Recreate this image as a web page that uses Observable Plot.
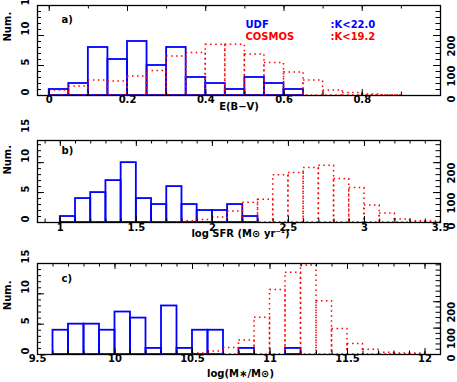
<!DOCTYPE html>
<html><head><meta charset="utf-8">
<script src="https://cdn.jsdelivr.net/npm/d3@7"></script>
<script src="https://cdn.jsdelivr.net/npm/@observablehq/plot@0.6"></script>
<style>
body{margin:0;background:#fff;}
#chart{position:relative;width:457px;height:382px;font-family:"DejaVu Sans",sans-serif;}
#chart > svg{position:absolute;left:0;}
</style></head><body><div id="chart"></div>
<script>
// ---------- Panel a: E(B-V) ----------
const ebvUDFStart = [0,0.05,0.1,0.15,0.2,0.25,0.3,0.35,0.4,0.45,0.5,0.55,0.6];
const ebvUDF      = [1,2,8,6,9,5,8,3,2,1,3,2,1];
const ebvCOSMOSStart = [0,0.05,0.1,0.15,0.2,0.25,0.3,0.35,0.4,0.45,0.5,0.55,0.6,0.65,0.7,0.75,0.8,0.85];
const ebvCOSMOS      = [17,30,50,47,63,82,130,142,169,169,137,108,77,50,17,8,3,1];
const ebvTicks  = [0,0.2,0.4,0.6,0.8];
const ebvLabels = ["0","0.2","0.4","0.6","0.8"];

// ---------- Panel b: log SFR ----------
const sfrUDFStart = [1.0,1.1,1.2,1.3,1.4,1.5,1.6,1.7,1.8,1.9,2.0,2.1,2.2];
const sfrUDF      = [1,4,5,7,10,4,3,6,3,2,2,3,1];
const sfrCOSMOSStart = [1.6,1.7,1.8,1.9,2.0,2.1,2.2,2.3,2.4,2.5,2.6,2.7,2.8,2.9,3.0,3.1,3.2,3.3,3.4];
const sfrCOSMOS      = [1,1,4,8,17,37,66,76,158,165,182,190,145,115,57,30,10,4,3];
const sfrTicks  = [1,1.5,2,2.5,3,3.5];
const sfrLabels = ["1","1.5","2","2.5","3","3.5"];

// ---------- Panel c: log stellar mass ----------
const massUDFStart = [9.6,9.7,9.8,9.9,10.0,10.1,10.2,10.3,10.4,10.5,10.6,10.7,10.8,10.9,11.0,11.1];
const massUDF      = [4,5,5,4,7,6,1,8,1,4,4,0,1,0,0,1];
const massCOSMOSStart = [10.5,10.6,10.7,10.8,10.9,11.0,11.1,11.2,11.3,11.4,11.5,11.6,11.7,11.8,11.9];
const massCOSMOS      = [4,11,25,53,139,245,310,337,202,97,40,18,7,4,4];
const massTicks  = [9.5,10,10.5,11,11.5,12];
const massLabels = ["9.5","10","10.5","11","11.5","12"];

// ---------- shared axis labels / legend ----------
const leftTicks  = [0,5,10,15];
const rightTicks = [0,100,200];
const legendNames = ["UDF","COSMOS"];
const legendCuts  = [":K<22.0",":K<19.2"];

const W = 457, ML = 37, MR = 17, innerW = W - ML - MR;
const FONT = "DejaVu Sans";
const BLUE = "#0000ff", RED = "#ff0000";
const legendColors = [BLUE, RED];

function panel(cfg) {
  const [x0, x1] = cfg.xDomain;
  const yMax = cfg.yMax;
  const ih = cfg.height - cfg.marginTop - cfg.marginBottom;
  const xpp = (x1 - x0) / innerW;      // data units per pixel (x)
  const ypp = yMax / ih;               // data units per pixel (y)
  const f = cfg.factor;
  const udf = cfg.udfStart.map((s, i) => ({a: s, b: s + cfg.bw, v: cfg.udf[i]})).filter(d => d.v > 0);
  const cos = cfg.cosStart.map((s, i) => ({a: s, b: s + cfg.bw, v: cfg.cos[i] / f}));
  const minorX = d3.range(cfg.minorStart, x1 - 1e-9, cfg.minorStep);
  const minorYL = d3.range(1, yMax, 1);
  const minorYR = d3.range(20, yMax * f, 20).map(v => v / f);
  const majorYL = [5, 10].filter(v => v < yMax);
  const majorYR = [100, 200].map(v => v / f);
  const txt = {fontSize: 10, fontFamily: FONT, fontWeight: "bold"};
  const marks = [
    Plot.rect(udf, {x1: "a", x2: "b", y1: 0, y2: "v", fill: "none", stroke: BLUE, strokeWidth: 1.8}),
    Plot.rect(cos, {x1: "a", x2: "b", y1: 0, y2: "v", fill: "none", stroke: RED, strokeWidth: 1.5, strokeDasharray: "1.5,3.5"}),
    // x ticks bottom/top
    Plot.ruleX(minorX, {x: d => d, y1: 0, y2: 3.5 * ypp, stroke: "#000"}),
    Plot.ruleX(minorX, {x: d => d, y1: yMax - 3.5 * ypp, y2: yMax, stroke: "#000"}),
    Plot.ruleX(cfg.ticks, {x: d => d, y1: 0, y2: 6 * ypp, stroke: "#000"}),
    Plot.ruleX(cfg.ticks, {x: d => d, y1: yMax - 6 * ypp, y2: yMax, stroke: "#000"}),
    // y ticks left/right
    Plot.ruleY(minorYL, {y: d => d, x1: x0, x2: x0 + 4 * xpp, stroke: "#000"}),
    Plot.ruleY(majorYL, {y: d => d, x1: x0, x2: x0 + 7 * xpp, stroke: "#000"}),
    Plot.ruleY(minorYR, {y: d => d, x1: x1 - 4.5 * xpp, x2: x1, stroke: "#000"}),
    Plot.ruleY(majorYR, {y: d => d, x1: x1 - 7 * xpp, x2: x1, stroke: "#000"}),
    Plot.frame({stroke: "#000", strokeWidth: 1.3}),
    // tick labels
    Plot.text(cfg.ticks, {x: d => d, frameAnchor: "bottom", text: (d, i) => cfg.labels[i], dy: cfg.tickDy, ...txt}),
    Plot.text(leftTicks, {y: d => d, frameAnchor: "left", text: d => String(d), rotate: -90, dx: -12, ...txt}),
    Plot.text(rightTicks, {y: d => d / f, frameAnchor: "right", text: d => String(d), rotate: -90, dx: 11, ...txt}),
    Plot.text(["Num."], {y: [cfg.numY], frameAnchor: "left", text: d => d, rotate: -90, dx: -30, ...txt}),
    Plot.text([cfg.title], {frameAnchor: "bottom", text: d => d, dx: cfg.titleDx, dy: cfg.titleDy, ...txt}),
    Plot.text([cfg.tag], {frameAnchor: "top-left", text: d => d, dx: 24, dy: cfg.tagDy, textAnchor: "start", ...txt})
  ];
  if (cfg.legend) {
    legendNames.forEach((name, i) => {
      marks.push(
        Plot.text([name], {frameAnchor: "top-left", text: d => d, dx: 208, dy: 15.5 + 12 * i,
          textAnchor: "start", fill: legendColors[i], ...txt}),
        Plot.text([legendCuts[i]], {frameAnchor: "top-left", text: d => d, dx: 293, dy: 15.5 + 12 * i,
          textAnchor: "start", fill: legendColors[i], ...txt})
      );
    });
  }
  const p = Plot.plot({
    width: W, height: cfg.height,
    marginLeft: ML, marginRight: MR, marginTop: cfg.marginTop, marginBottom: cfg.marginBottom,
    x: {domain: cfg.xDomain, axis: null},
    y: {domain: [0, yMax], axis: null},
    style: {fontFamily: FONT, fontSize: "10px", background: "transparent", overflow: "visible"},
    marks
  });
  p.style.top = cfg.top + "px";
  return p;
}

const chart = document.getElementById("chart");

const panels = [
  {top: 0, height: 120, marginTop: 5, marginBottom: 25, xDomain: [-0.03, 1.0], yMax: 15, factor: 20,
   bw: 0.05, udfStart: ebvUDFStart, udf: ebvUDF, cosStart: ebvCOSMOSStart, cos: ebvCOSMOS,
   ticks: ebvTicks, labels: ebvLabels, minorStart: 0, minorStep: 0.1, tickDy: 7.5,
   title: "E(B\u2212V)", titleDx: 0, titleDy: 14, tag: "a)", tagDy: 10, numY: 9, legend: true},
  {top: 120, height: 125, marginTop: 20, marginBottom: 23, xDomain: [0.85, 3.5], yMax: 13.7, factor: 20,
   bw: 0.1, udfStart: sfrUDFStart, udf: sfrUDF, cosStart: sfrCOSMOSStart, cos: sfrCOSMOS,
   ticks: sfrTicks, labels: sfrLabels, minorStart: 0.9, minorStep: 0.1, tickDy: 8,
   title: "log SFR (M\u2299 yr\u207B\u00B9)", titleDx: 1.5, titleDy: 14, tag: "b)", tagDy: 6, numY: 8},
  {top: 245, height: 137, marginTop: 18, marginBottom: 28, xDomain: [9.5, 12.1], yMax: 15, factor: 23,
   bw: 0.1, udfStart: massUDFStart, udf: massUDF, cosStart: massCOSMOSStart, cos: massCOSMOS,
   ticks: massTicks, labels: massLabels, minorStart: 9.6, minorStep: 0.1, tickDy: 7,
   title: "log(M\u2217/M\u2299)", titleDx: 1.5, titleDy: 22, tag: "c)", tagDy: 11, numY: 7.3}
];

for (const cfg of panels) chart.appendChild(panel(cfg));
</script></body></html>
